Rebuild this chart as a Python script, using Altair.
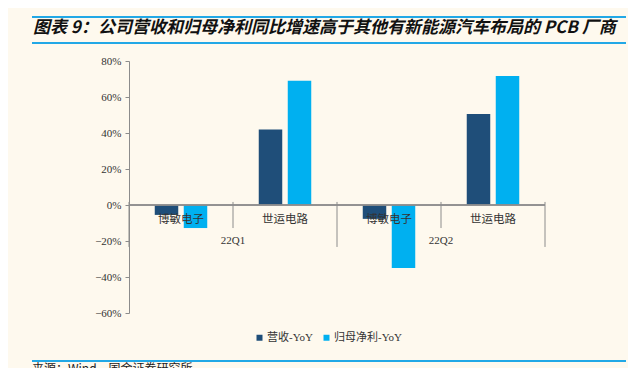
import altair as alt
import pandas as pd

# ---- data ----
quarters = ["22Q1", "22Q1", "22Q2", "22Q2"]
companies = ["博敏电子", "世运电路", "博敏电子", "世运电路"]
series_names = ["营收-YoY", "归母净利-YoY"]
revenue_yoy = [-0.055, 0.42, -0.077, 0.505]
profit_yoy = [-0.128, 0.69, -0.35, 0.717]
y_ticks = [-0.6, -0.4, -0.2, 0.0, 0.2, 0.4, 0.6, 0.8]
title_text = "图表 9：公司营收和归母净利同比增速高于其他有新能源汽车布局的 PCB 厂商"
source_text = "来源：Wind，国金证券研究所"

keys = [f"{q}|{c}" for q, c in zip(quarters, companies)]

rows = []
for k, q, c, r, p in zip(keys, quarters, companies, revenue_yoy, profit_yoy):
    rows.append({"key": k, "company": c, "quarter": q, "series": series_names[0], "value": r})
    rows.append({"key": k, "company": c, "quarter": q, "series": series_names[1], "value": p})
bars_df = pd.DataFrame(rows)

cat_df = pd.DataFrame({"key": keys, "company": companies, "quarter": quarters})
grp_df = pd.DataFrame({"key": [keys[1], keys[3]], "quarter": ["22Q1", "22Q2"]})
sep_df = pd.DataFrame({
    "key": keys,
    "top": [0.017] * 4,
    "bottom": [-0.233, -0.128, -0.233, -0.128],
})
end_df = pd.DataFrame({"key": [keys[3]], "top": [0.017], "bottom": [-0.233]})

BG = "#FEF9EE"
DARK = "#1F4E79"
LIGHT = "#00B0F0"
LINE = "#22A8E6"
AX = "#8C8C8C"
TXT = "#333333"
SERIF = "Liberation Serif, Noto Sans CJK SC"
CJK = "Noto Sans CJK SC"

xscale = alt.Scale(domain=keys, paddingInner=0, paddingOuter=0)
yscale = alt.Scale(domain=[-0.6, 0.8], nice=False, zero=False)
yaxis = alt.Axis(values=y_ticks, tickCount=len(y_ticks) + 2, format=".0%",
                 grid=False, title=None,
                 domainColor=AX, tickColor=AX, tickSize=4,
                 labelFont=SERIF, labelFontSize=11, labelColor=TXT,
                 labelPadding=4, labelOverlap=False)

x_enc = alt.X("key:N", scale=xscale, axis=None)

bars = alt.Chart(bars_df).mark_bar().encode(
    x=x_enc,
    xOffset=alt.XOffset("series:N", sort=series_names,
                        scale=alt.Scale(paddingInner=0.19, paddingOuter=0.888)),
    y=alt.Y("value:Q", scale=yscale, axis=yaxis),
    color=alt.Color("series:N", sort=series_names,
                    scale=alt.Scale(domain=series_names, range=[DARK, LIGHT]),
                    legend=alt.Legend(title=None, orient="none", direction="horizontal",
                                      legendX=125, legendY=271,
                                      symbolType="square", symbolSize=36,
                                      symbolStrokeWidth=0,
                                      labelFont=SERIF, labelFontSize=11,
                                      labelColor=TXT, columnPadding=8,
                                      labelOffset=2)),
)

zero = alt.Chart(cat_df).mark_rule(color=AX, strokeWidth=1).encode(
    y=alt.Y("zero:Q", scale=yscale, axis=yaxis)
).transform_calculate(zero="0")

seps = alt.Chart(sep_df).mark_rule(color=AX, strokeWidth=1).encode(
    x=alt.X("key:N", scale=xscale, axis=None, bandPosition=0),
    y=alt.Y("top:Q", scale=yscale, axis=yaxis),
    y2="bottom:Q",
)
end_sep = alt.Chart(end_df).mark_rule(color=AX, strokeWidth=1).encode(
    x=alt.X("key:N", scale=xscale, axis=None, bandPosition=1),
    y=alt.Y("top:Q", scale=yscale, axis=yaxis),
    y2="bottom:Q",
)

cat_labels = alt.Chart(cat_df).mark_text(
    font=SERIF, fontSize=11.5, color=TXT, baseline="middle", dy=15
).encode(x=x_enc, y=alt.datum(0), text="company:N")

grp_labels = alt.Chart(grp_df).mark_text(
    font=SERIF, fontSize=11, color=TXT, baseline="middle", dy=36
).encode(x=alt.X("key:N", scale=xscale, axis=None, bandPosition=0),
         y=alt.datum(0), text="quarter:N")

deco_df = pd.DataFrame({"t": [title_text], "s": [source_text]})
title = alt.Chart(deco_df).mark_text(
    font=CJK, fontSize=17, fontWeight="bold", fontStyle="italic", color="#111111",
    align="left", baseline="middle"
).encode(x=alt.value(-96), y=alt.value(-33), text="t:N")

source = alt.Chart(deco_df).mark_text(
    font=CJK, fontSize=12, color="#222222", align="left", baseline="middle"
).encode(x=alt.value(-97), y=alt.value(308), text="s:N")

def hline(yv):
    return alt.Chart(deco_df).mark_rule(color=LINE, strokeWidth=2).encode(
        x=alt.value(-97), x2=alt.value(497), y=alt.value(yv))

chart = alt.layer(
    bars, zero, seps, end_sep, cat_labels, grp_labels,
    title, source, hline(-44), hline(-18), hline(300)
).properties(
    width=416, height=252,
    background=BG,
    padding={"left": 121, "top": 53, "right": 83, "bottom": 55},
    autosize=alt.AutoSizeParams(type="none"),
).configure_view(stroke=None)

chart.save("out.html", embed_options={"renderer": "svg", "actions": False})
